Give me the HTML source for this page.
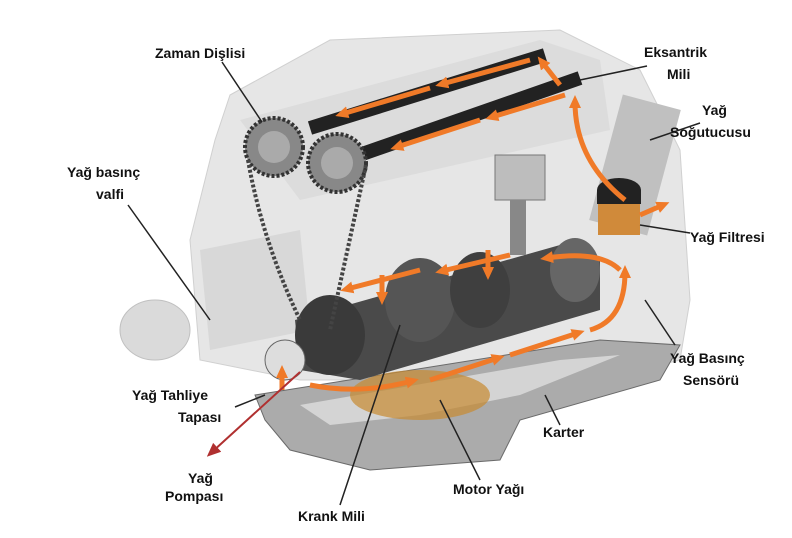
<!DOCTYPE html>
<html><head><meta charset="utf-8"><style>
body{margin:0;background:#fff;width:792px;height:538px;overflow:hidden}
.l{position:absolute;font-family:"Liberation Sans",sans-serif;font-weight:bold;font-size:14px;color:#111;line-height:22px;white-space:nowrap}
</style></head><body>
<svg width="792" height="538" style="position:absolute;left:0;top:0">
<defs><marker id="ar" markerUnits="userSpaceOnUse" markerWidth="14" markerHeight="14" refX="7" refY="7" orient="auto"><path d="M0,1L14,7L0,13z" fill="#b03030"/></marker>
<marker id="oa" markerUnits="userSpaceOnUse" markerWidth="14" markerHeight="14" refX="6" refY="7" orient="auto"><path d="M0,1L13,7L0,13z" fill="#f07a28"/></marker></defs>
<path d="M230,95 L330,40 L560,30 L640,70 L680,150 L690,300 L680,360 L600,380 L300,380 L200,360 L190,240 L215,140z" fill="#e6e6e6" stroke="#d0d0d0"/>
<path d="M240,120 L540,40 L600,60 L610,130 L300,200z" fill="#dcdcdc"/>
<path d="M200,250 L300,230 L310,330 L210,350z" fill="#d8d8d8"/>
<ellipse cx="155" cy="330" rx="35" ry="30" fill="#dadada" stroke="#c0c0c0"/>
<rect x="605" y="100" width="60" height="130" fill="#c0c0c0" transform="rotate(15 635 165)"/>
<path d="M255,395 L600,340 L680,345 L660,380 L520,420 L500,460 L370,470 L290,450 L265,420z" fill="#ababab" stroke="#6a6a6a"/>
<path d="M300,405 L560,360 L620,355 L520,395 L420,415 L330,425z" fill="#d4d4d4"/>
<ellipse cx="420" cy="395" rx="70" ry="25" fill="#c88a30" opacity="0.7"/>
<path d="M295,320 L560,245 L600,260 L600,310 L360,380 L300,370z" fill="#4a4a4a"/>
<ellipse cx="330" cy="335" rx="35" ry="40" fill="#3a3a3a"/>
<ellipse cx="420" cy="300" rx="35" ry="42" fill="#555"/>
<ellipse cx="480" cy="290" rx="30" ry="38" fill="#3f3f3f"/>
<ellipse cx="575" cy="270" rx="25" ry="32" fill="#666"/>
<circle cx="285" cy="360" r="20" fill="#ddd" stroke="#666"/>
<rect x="495" y="155" width="50" height="45" fill="#bdbdbd" stroke="#777"/>
<rect x="510" y="200" width="16" height="55" fill="#888"/>
<line x1="310" y1="128" x2="545" y2="55" stroke="#222" stroke-width="14"/>
<line x1="345" y1="160" x2="580" y2="78" stroke="#222" stroke-width="14"/>
<circle cx="274" cy="147" r="29" fill="#888" stroke="#333" stroke-width="4" stroke-dasharray="3 2"/>
<circle cx="274" cy="147" r="16" fill="#aaa"/>
<circle cx="337" cy="163" r="29" fill="#888" stroke="#333" stroke-width="4" stroke-dasharray="3 2"/>
<circle cx="337" cy="163" r="16" fill="#aaa"/>
<path d="M248,160 Q262,240 300,320 M366,165 L330,330" stroke="#444" stroke-width="4" fill="none" stroke-dasharray="3 2"/>
<rect x="598" y="200" width="42" height="35" fill="#d08a3a"/>
<ellipse cx="619" cy="190" rx="22" ry="12" fill="#222"/>
<rect x="597" y="190" width="44" height="14" fill="#222"/>
<g stroke="#f07a28" stroke-width="5" fill="none" marker-end="url(#oa)">
<path d="M310,385 Q360,395 412,381"/>
<path d="M430,380 L498,358"/>
<path d="M510,355 L578,333"/>
<path d="M590,330 Q625,320 625,272"/>
<path d="M625,200 Q575,160 575,102"/>
<path d="M560,85 L542,62"/>
<path d="M530,60 L442,84"/>
<path d="M430,88 L342,114"/>
<path d="M565,95 L492,117"/>
<path d="M480,120 L397,147"/>
<path d="M620,270 Q600,250 547,258"/>
<path d="M510,255 L442,271"/>
<path d="M420,270 L347,289"/>
<path d="M382,275 L382,298"/>
<path d="M488,250 L488,273"/>
<path d="M282,390 L282,372"/>
<path d="M640,215 L663,205"/>
</g>
<g stroke="#222" stroke-width="1.5">
<line x1="222" y1="62" x2="262" y2="122"/>
<line x1="647" y1="66" x2="580" y2="80"/>
<line x1="700" y1="123" x2="650" y2="140"/>
<line x1="128" y1="205" x2="210" y2="320"/>
<line x1="690" y1="233" x2="640" y2="225"/>
<line x1="675" y1="345" x2="645" y2="300"/>
<line x1="235" y1="407" x2="265" y2="395"/>
<line x1="560" y1="425" x2="545" y2="395"/>
<line x1="480" y1="480" x2="440" y2="400"/>
<line x1="340" y1="505" x2="400" y2="325"/>
</g>
<line x1="300" y1="372" x2="212" y2="452" stroke="#b03030" stroke-width="2" marker-end="url(#ar)"/>
</svg>
<div class="l" style="left:155px;top:42px">Zaman Dişlisi</div>
<div class="l" style="left:644px;top:41px">Eksantrik</div>
<div class="l" style="left:667px;top:63px">Mili</div>
<div class="l" style="left:702px;top:99px">Yağ</div>
<div class="l" style="left:670px;top:121px">Soğutucusu</div>
<div class="l" style="left:67px;top:161px">Yağ basınç</div>
<div class="l" style="left:96px;top:183px">valfi</div>
<div class="l" style="left:690px;top:226px">Yağ Filtresi</div>
<div class="l" style="left:670px;top:347px">Yağ Basınç</div>
<div class="l" style="left:683px;top:369px">Sensörü</div>
<div class="l" style="left:132px;top:384px">Yağ Tahliye</div>
<div class="l" style="left:178px;top:406px">Tapası</div>
<div class="l" style="left:543px;top:421px">Karter</div>
<div class="l" style="left:188px;top:467px">Yağ</div>
<div class="l" style="left:165px;top:485px">Pompası</div>
<div class="l" style="left:453px;top:478px">Motor Yağı</div>
<div class="l" style="left:298px;top:505px">Krank Mili</div>
</body></html>
